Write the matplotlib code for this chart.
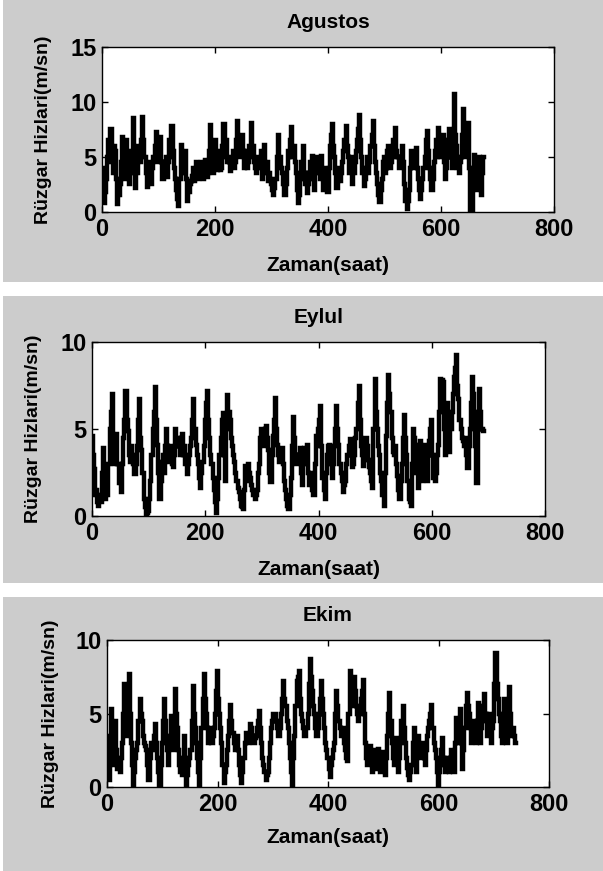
import numpy as np
import matplotlib
matplotlib.use("Agg")
import matplotlib.pyplot as plt
from matplotlib.patches import Rectangle

# ---------------- data (values read every 2 hours) ----------------
step_hours = 2

agustos = [4.0, 2.5, 0.8, 1.8, 3.0, 5.0, 6.5, 4.5, 7.5, 5.5, 3.5, 6.0, 5.5, 3.0, 0.7, 1.5,
           2.5, 4.5, 6.8, 4.0, 5.0, 3.0, 6.5, 4.5, 2.5, 3.5, 5.5, 4.5, 8.5, 5.0, 2.2, 3.5,
           6.0, 5.5, 4.5, 6.5, 8.6, 6.5, 5.0, 3.5, 2.3, 3.0, 4.5, 3.5, 2.5, 4.0, 5.0, 6.0,
           7.3, 4.5, 5.0, 6.0, 6.8, 4.5, 3.0, 4.0, 4.5, 5.0, 3.2, 4.5, 6.5, 5.0, 7.8, 5.5,
           4.0, 3.0, 2.0, 1.2, 0.5, 3.0, 6.1, 4.0, 4.5, 3.5, 5.5, 3.0, 1.0, 1.8, 2.5, 2.8,
           3.3, 4.0, 2.8, 3.5, 4.5, 3.0, 3.5, 4.0, 4.5, 3.5, 3.0, 4.0, 4.7, 3.2, 3.5, 5.5,
           7.9, 5.5, 4.5, 3.5, 6.5, 5.0, 3.8, 4.5, 5.5, 3.8, 4.0, 6.0, 8.0, 5.0, 6.5, 4.5,
           5.0, 4.5, 3.7, 4.5, 5.5, 4.0, 4.5, 6.5, 8.3, 5.5, 6.0, 5.0, 7.0, 5.5, 4.0, 5.0,
           5.5, 4.0, 4.5, 6.0, 8.1, 5.0, 6.0, 4.5, 4.0, 3.5, 5.0, 4.0, 4.5, 5.5, 3.0, 4.5,
           6.1, 3.5, 4.5, 2.8, 3.5, 3.0, 2.5, 2.0, 1.5, 2.2, 3.0, 5.0, 7.0, 4.5, 5.0, 4.0,
           3.5, 2.5, 1.5, 2.5, 4.0, 5.5, 5.0, 6.5, 7.7, 5.0, 6.0, 4.5, 3.5, 2.0, 0.8, 1.5,
           3.0, 4.5, 6.0, 3.5, 2.5, 3.5, 1.7, 2.5, 3.5, 4.5, 5.1, 3.0, 2.0, 4.5, 3.5, 5.0,
           4.5, 3.0, 5.1, 3.5, 2.0, 4.0, 3.5, 2.5, 1.8, 4.0, 6.0, 7.0, 8.0, 6.0, 5.0, 3.5,
           2.2, 3.0, 4.0, 2.8, 3.5, 4.5, 5.5, 6.5, 7.8, 6.0, 5.0, 3.5, 4.0, 5.0, 2.5, 3.5,
           4.5, 5.5, 6.5, 7.5, 8.8, 6.5, 5.0, 3.5, 2.4, 3.0, 4.0, 5.0, 3.5, 4.5, 6.0, 7.0,
           8.3, 6.0, 4.5, 3.5, 2.5, 1.5, 0.9, 2.0, 3.0, 4.5, 5.0, 3.5, 4.0, 5.5, 6.0, 4.0,
           4.5, 5.5, 6.5, 5.0, 7.6, 5.5, 5.0, 4.0, 4.0, 5.0, 6.0, 4.5, 2.5, 1.0, 0.3, 1.0,
           2.0, 4.0, 5.5, 4.5, 4.0, 5.0, 5.8, 4.0, 3.0, 2.0, 1.2, 2.0, 3.0, 4.0, 5.0, 6.5,
           7.4, 5.5, 4.0, 3.0, 2.0, 3.0, 4.5, 5.5, 6.5, 5.0, 7.6, 6.0, 5.0, 6.0, 7.0, 4.5,
           3.0, 4.0, 5.0, 6.5, 7.5, 5.0, 4.0, 6.5, 10.7, 7.0, 6.0, 4.0, 3.5, 4.5, 5.0, 7.0,
           9.4, 6.0, 5.0, 6.5, 8.1, 4.0, 0.0, 0.0, 0.0, 3.0, 5.2, 3.5, 2.0, 4.0, 5.0, 3.0,
           1.5, 3.5, 5.0]

eylul = [4.6, 3.5, 2.7, 1.2, 1.5, 0.8, 0.6, 1.2, 0.8, 2.5, 3.9, 2.0, 1.0, 2.5, 1.2, 3.0,
         5.0, 6.0, 7.0, 4.5, 3.0, 4.0, 4.7, 3.0, 1.9, 2.5, 1.4, 3.0, 4.5, 5.5, 7.2, 5.5,
         4.9, 3.5, 3.1, 4.0, 3.5, 3.0, 2.4, 3.0, 4.0, 5.5, 6.7, 4.5, 3.8, 2.5, 1.0, 0.5,
         0.1, 0.2, 0.3, 1.0, 2.0, 3.5, 5.0, 6.0, 7.4, 5.5, 4.1, 2.5, 1.0, 2.0, 3.1, 3.5,
         2.5, 4.0, 5.0, 4.0, 3.1, 3.5, 4.0, 3.0, 2.8, 3.5, 5.0, 4.0, 4.5, 4.0, 3.5, 4.5,
         4.7, 3.5, 4.0, 3.0, 2.4, 3.0, 3.5, 4.0, 4.5, 5.5, 6.7, 5.0, 4.1, 3.5, 3.0, 2.2,
         1.6, 2.5, 3.1, 4.0, 5.5, 6.5, 7.2, 5.5, 4.5, 3.5, 3.0, 2.2, 1.5, 0.8, 0.2, 1.0,
         2.2, 3.5, 4.5, 5.5, 5.9, 3.5, 2.0, 5.0, 6.95, 6.0, 5.5, 4.5, 4.0, 3.5, 3.1, 2.5,
         2.0, 1.6, 1.4, 1.0, 0.6, 0.5, 0.4, 1.5, 2.9, 2.0, 3.0, 2.5, 2.2, 1.8, 1.5, 1.2,
         1.0, 1.2, 1.5, 2.5, 3.0, 4.5, 5.0, 4.0, 4.5, 5.0, 5.2, 4.5, 3.8, 2.5, 1.95, 3.5,
         4.6, 5.5, 6.8, 5.0, 4.1, 3.5, 3.1, 3.5, 3.9, 3.0, 2.0, 1.5, 1.0, 0.6, 0.4, 1.2,
         2.2, 4.0, 5.7, 4.5, 3.5, 3.0, 3.0, 3.5, 3.9, 2.5, 1.8, 3.0, 3.9, 3.5, 4.1, 2.5,
         1.8, 2.2, 2.5, 1.5, 1.2, 3.0, 4.6, 4.0, 5.0, 5.5, 6.3, 4.0, 2.2, 1.5, 1.0, 2.5,
         3.5, 4.0, 4.1, 3.0, 2.2, 3.0, 4.0, 5.0, 6.3, 5.0, 4.1, 3.0, 2.5, 2.0, 1.4, 1.8,
         2.0, 3.0, 3.5, 4.0, 4.45, 3.5, 2.8, 3.0, 3.5, 4.5, 5.0, 6.5, 7.5, 5.5, 4.0, 3.5,
         2.9, 3.5, 4.5, 4.0, 3.2, 2.8, 2.5, 2.0, 1.6, 5.0, 7.9, 6.0, 5.0, 4.0, 3.5, 2.5,
         2.0, 1.2, 0.6, 2.5, 4.6, 6.5, 8.1, 7.0, 6.0, 4.5, 3.7, 3.5, 4.0, 3.0, 2.3, 1.5,
         1.0, 2.0, 3.0, 4.5, 5.8, 4.5, 3.5, 2.0, 1.0, 0.8, 0.6, 3.0, 5.0, 4.5, 4.1, 2.5,
         1.6, 3.0, 4.3, 3.0, 2.0, 3.0, 4.1, 3.0, 2.0, 3.5, 4.3, 5.0, 5.5, 3.5, 2.2, 2.0,
         2.5, 3.5, 4.1, 6.0, 7.9, 7.8, 7.7, 5.0, 3.5, 5.0, 6.5, 5.0, 3.7, 5.0, 6.0, 7.0,
         8.0, 8.5, 9.25, 7.5, 6.7, 5.5, 5.0, 4.5, 4.3, 4.0, 4.5, 3.5, 2.75, 4.0, 5.0, 6.5,
         8.0, 7.0, 6.0, 4.0, 1.9, 5.0, 7.3, 6.0, 5.0, 5.0, 4.9]

ekim = [3.5, 2.0, 0.5, 3.0, 5.3, 3.5, 1.5, 3.0, 4.5, 2.5, 1.2, 1.5, 1.0, 2.0, 3.0, 5.0,
        7.0, 5.0, 3.5, 6.0, 7.7, 5.0, 3.0, 1.5, 0.0, 1.0, 2.0, 2.5, 3.0, 4.5, 6.0, 5.0,
        4.5, 3.5, 3.0, 2.8, 2.5, 1.5, 0.5, 2.0, 3.0, 2.8, 2.5, 3.5, 4.3, 3.0, 2.0, 1.0,
        0.0, 1.5, 3.0, 4.5, 6.0, 4.5, 3.5, 2.5, 1.5, 3.0, 4.8, 3.5, 2.5, 4.5, 6.7, 5.0,
        4.0, 2.5, 1.5, 1.0, 0.8, 2.0, 3.5, 1.5, 0.0, 0.8, 1.5, 2.0, 2.5, 4.5, 6.9, 5.0,
        4.0, 3.0, 2.0, 1.0, 0.0, 2.0, 4.0, 6.0, 7.7, 6.0, 5.0, 4.0, 3.0, 3.5, 4.0, 3.0,
        3.5, 4.0, 5.0, 6.5, 7.9, 6.0, 5.0, 4.0, 3.0, 1.5, 0.3, 1.0, 1.5, 2.5, 3.5, 4.5,
        5.6, 4.5, 3.7, 3.0, 2.5, 3.0, 3.5, 2.5, 1.5, 0.8, 0.3, 1.0, 2.0, 3.0, 3.7, 3.5,
        3.0, 3.5, 4.3, 4.0, 3.5, 3.0, 3.3, 3.5, 4.0, 4.5, 5.2, 4.0, 3.0, 2.0, 1.5, 1.0,
        0.5, 0.8, 1.0, 2.0, 3.0, 4.0, 4.5, 5.0, 5.0, 4.5, 4.0, 3.5, 3.5, 4.0, 5.0, 6.0,
        7.2, 6.0, 5.5, 4.5, 4.0, 3.0, 2.0, 1.0, 0.0, 2.0, 3.5, 5.5, 7.2, 7.5, 7.9, 6.0,
        5.0, 4.5, 4.0, 3.5, 3.5, 4.0, 5.0, 7.0, 8.7, 7.5, 6.5, 5.5, 5.0, 4.0, 3.5, 4.0,
        5.0, 6.0, 7.2, 6.0, 5.0, 4.0, 3.0, 2.5, 2.0, 1.2, 0.7, 1.5, 2.0, 2.5, 3.0, 5.0,
        6.5, 5.5, 4.5, 4.0, 3.5, 3.5, 4.0, 3.0, 2.5, 2.0, 1.8, 5.0, 7.9, 6.5, 5.5, 6.5,
        7.5, 6.5, 5.5, 5.0, 4.5, 5.0, 6.0, 6.5, 7.3, 5.0, 3.0, 2.0, 1.5, 2.0, 2.8, 1.8,
        1.0, 2.0, 2.5, 1.5, 1.2, 2.0, 2.6, 1.5, 1.0, 1.8, 2.4, 1.5, 0.8, 2.0, 3.5, 5.0,
        6.4, 4.5, 3.0, 2.0, 1.5, 2.5, 3.3, 2.0, 1.0, 2.0, 3.0, 4.5, 5.5, 4.0, 3.0, 2.0,
        1.3, 0.8, 0.5, 1.0, 1.5, 3.0, 4.0, 2.5, 1.0, 2.5, 3.5, 2.5, 2.0, 2.5, 3.0, 2.0,
        1.5, 2.5, 3.5, 4.0, 4.5, 5.0, 5.6, 4.0, 3.0, 2.5, 2.0, 1.0, 0.0, 1.0, 1.5, 2.5,
        3.3, 2.0, 1.0, 1.5, 2.0, 1.5, 1.0, 2.0, 2.5, 1.5, 1.0, 3.0, 4.7, 3.5, 3.0, 4.5,
        5.3, 3.0, 1.2, 2.5, 4.0, 5.5, 6.4, 5.5, 5.0, 4.0, 3.0, 4.0, 4.5, 3.5, 3.0, 4.5,
        5.7, 4.5, 3.0, 4.0, 4.5, 5.5, 6.3, 5.0, 3.5, 4.5, 5.0, 4.0, 3.0, 4.0, 4.5, 7.0,
        9.1, 7.0, 6.0, 5.0, 4.5, 3.5, 3.0, 4.5, 6.0, 4.5, 3.0, 5.0, 6.8, 5.0, 3.5, 4.0,
        4.0, 3.5, 3.0]

titles = ["Agustos", "Eylul", "Ekim"]
series = [agustos, eylul, ekim]
yticks_list = [[0, 5, 10, 15], [0, 5, 10], [0, 5, 10]]
xticks = [0, 200, 400, 600, 800]
xlabel = "Zaman(saat)"
ylabel = "Rüzgar Hizlari(m/sn)"

# ---------------- layout (pixels) ----------------
W, H = 603, 871
plt.rcParams["font.family"] = ["Liberation Sans", "DejaVu Sans"]
fig = plt.figure(figsize=(W / 100, H / 100), dpi=100, facecolor="white")

grey = "#cccccc"
panels = [(3, 0, 603, 282), (3, 296, 603, 583), (3, 597, 603, 871)]
for (x0, y0, x1, y1) in panels:
    fig.patches.append(Rectangle((x0 / W, 1 - y1 / H), (x1 - x0) / W, (y1 - y0) / H,
                                 transform=fig.transFigure, facecolor=grey,
                                 edgecolor="none", zorder=-10))

axes_px = [(102, 47, 554, 212), (92, 342, 545, 516), (107, 640, 549, 787)]
xlabel_pad = [11, 11, 9]
ylabel_pad = [13, 13, 12]

for i, (l, t, r, b) in enumerate(axes_px):
    ax = fig.add_axes([l / W, 1 - b / H, (r - l) / W, (b - t) / H])
    ax.set_zorder(5)
    vals = np.array(series[i], dtype=float)
    hours = np.arange(len(vals)) * step_hours
    ax.plot(hours, vals, color="black", lw=3.2, drawstyle="steps-mid",
            solid_joinstyle="miter")
    ax.set_xlim(0, 800)
    yt = yticks_list[i]
    ax.set_ylim(yt[0], yt[-1])
    ax.set_xticks(xticks)
    ax.set_yticks(yt)
    ax.tick_params(direction="in", length=4, width=1, top=True, right=True,
                   labelsize=17, pad=4)
    for lab in ax.get_xticklabels() + ax.get_yticklabels():
        lab.set_fontweight("bold")
    for sp in ax.spines.values():
        sp.set_linewidth(1.0)
    ax.set_facecolor("white")
    ax.set_title(titles[i], fontsize=15, fontweight="bold", pad=14)
    ax.set_xlabel(xlabel, fontsize=15, fontweight="bold", labelpad=xlabel_pad[i])
    ax.set_ylabel(ylabel, fontsize=14, fontweight="bold", labelpad=ylabel_pad[i])

fig.savefig("out.png", dpi=100, facecolor="white")
